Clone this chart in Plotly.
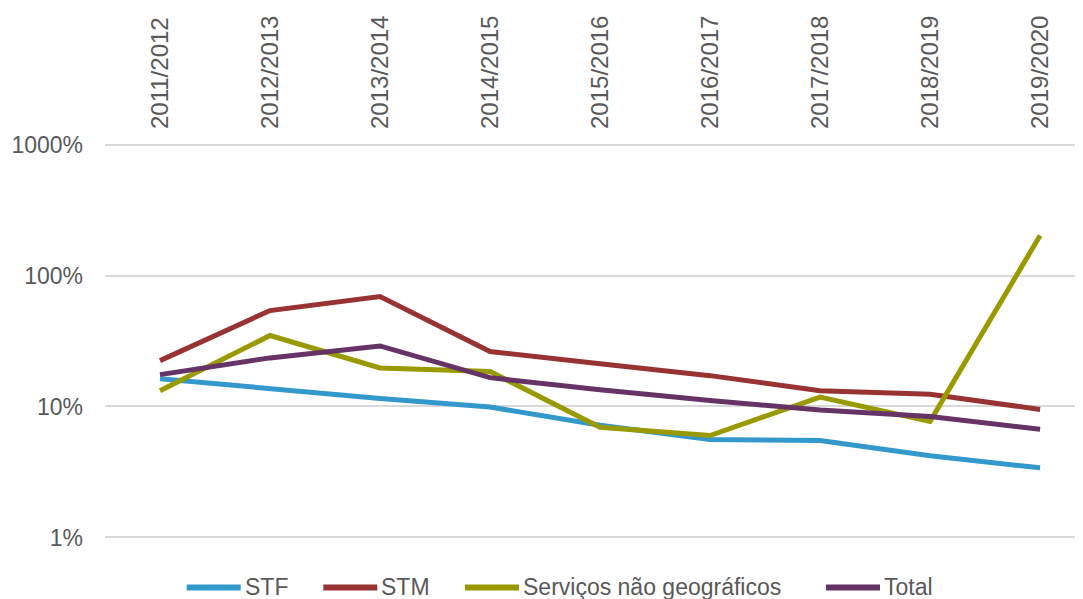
import plotly.graph_objects as go

categories = ["2011/2012", "2012/2013", "2013/2014", "2014/2015", "2015/2016",
              "2016/2017", "2017/2018", "2018/2019", "2019/2020"]

# values in fraction (1.0 = 100%)
stf = [0.163, 0.136, 0.115, 0.099, 0.072, 0.056, 0.055, 0.042, 0.034]
stm = [0.224, 0.54, 0.69, 0.263, 0.212, 0.172, 0.132, 0.124, 0.095]
servicos = [0.132, 0.348, 0.197, 0.185, 0.0695, 0.060, 0.118, 0.077, 2.02]
total = [0.175, 0.235, 0.29, 0.166, 0.134, 0.111, 0.094, 0.084, 0.067]

series_names = ["STF", "STM", "Serviços não geográficos", "Total"]
series_values = [stf, stm, servicos, total]
series_colors = ["#3399CC", "#993333", "#999900", "#663366"]

y_tickvals = [0.01, 0.1, 1, 10]
y_ticktext = ["1%", "10%", "100%", "1000%"]

# ---- layout geometry (figure pixels) ----
W, H = 1075, 591
ML, MR, MT, MB = 97, 0, 129.5, 54.5
PW, PH = W - ML - MR, H - MT - MB

# legend entry start positions (figure pixels) and shared geometry
legend_x0 = [178.7, 315.3, 457.0, 818.0]
legend_line_len = 54
legend_text_gap = 4
legend_y = 580.0


def px2paper_x(px):
    return (px - ML) / PW


def px2paper_y(py):
    return (H - MB - py) / PH


fig = go.Figure()
for name, vals, col in zip(series_names, series_values, series_colors):
    fig.add_trace(go.Scatter(
        x=categories, y=vals, name=name, mode="lines",
        line=dict(color=col, width=5),
    ))

font_color = "#595959"

shapes = []
annotations = []
for name, col, x0 in zip(series_names, series_colors, legend_x0):
    shapes.append(dict(
        type="line", xref="paper", yref="paper",
        x0=px2paper_x(x0), x1=px2paper_x(x0 + legend_line_len),
        y0=px2paper_y(legend_y), y1=px2paper_y(legend_y),
        line=dict(color=col, width=6),
    ))
    annotations.append(dict(
        xref="paper", yref="paper",
        x=px2paper_x(x0 + legend_line_len + legend_text_gap),
        y=px2paper_y(legend_y), xanchor="left", yanchor="middle",
        text=name, showarrow=False,
        font=dict(size=23, color=font_color), xshift=-2,
    ))

fig.update_layout(
    width=W, height=H,
    margin=dict(l=ML, r=MR, t=MT, b=MB, autoexpand=False, pad=0),
    paper_bgcolor="white", plot_bgcolor="white",
    font=dict(family="Liberation Sans, Arial, sans-serif", size=23, color=font_color),
    showlegend=False,
    shapes=shapes,
    annotations=annotations,
    xaxis=dict(
        type="category", side="top", tickangle=-90, automargin=False,
        range=[-0.5, 8.39], showgrid=False, showline=False, zeroline=False,
        ticks="", ticklabelstandoff=8,
        tickfont=dict(size=24, color=font_color),
    ),
    yaxis=dict(
        type="log", range=[-2.05, 1.05], automargin=False,
        tickvals=y_tickvals, ticktext=y_ticktext,
        showgrid=True, gridcolor="#D9D9D9", gridwidth=1.5,
        showline=False, zeroline=False, ticks="", ticklabelstandoff=21,
        tickfont=dict(size=23, color=font_color),
    ),
)

fig.write_html("out.html")
